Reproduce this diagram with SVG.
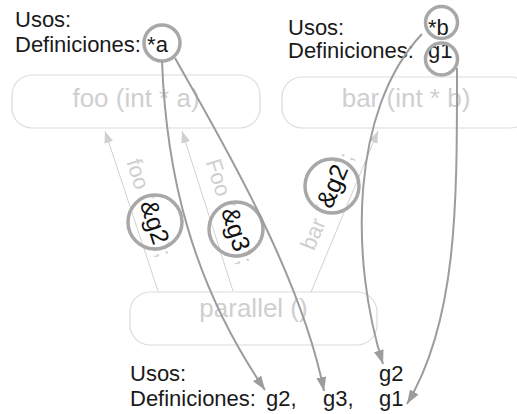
<svg xmlns="http://www.w3.org/2000/svg" width="517" height="414" viewBox="0 0 517 414">
  <style>
    .lbl { font-family: "Liberation Sans", Arial, sans-serif; font-size: 22px; fill: #1a1a1a; }
    .node rect { fill: none; stroke: #dcdcdc; stroke-width: 1.2; }
    .node text { font-family: "Liberation Sans", Arial, sans-serif; font-size: 26px; fill: #cfcfcf; text-anchor: middle; }
    .call { stroke: #d0d0d0; stroke-width: 1; fill: none; }
    .calltxt { font-family: "Liberation Sans", Arial, sans-serif; font-size: 22px; fill: #cfcfcf; }
    .arg { font-size: 25px; fill: #111; }
    .ring { fill: none; stroke: #a8a8a8; stroke-width: 3.5; }
    .dep { stroke: #9c9c9c; stroke-width: 2; fill: none; marker-end: url(#dark); }
  </style>
  <defs>
    <marker id="dark" markerUnits="userSpaceOnUse" markerWidth="15" markerHeight="11" refX="14" refY="5" orient="auto">
      <path d="M0,0 L14,5 L0,10 z" fill="#9c9c9c"/>
    </marker>
    <marker id="light" markerUnits="userSpaceOnUse" markerWidth="13" markerHeight="10" refX="12" refY="4.5" orient="auto">
      <path d="M0,0 L12,4.5 L0,9 z" fill="#d0d0d0"/>
    </marker>
  </defs>

  <rect width="517" height="414" fill="#ffffff"/>

  <!-- function nodes -->
  <g id="foo" class="node">
    <rect x="12" y="75" width="248" height="53" rx="20"/>
    <text x="136" y="107">foo (int * a)</text>
  </g>
  <g id="bar" class="node">
    <rect x="282" y="77" width="248" height="51" rx="20"/>
    <text x="406" y="107">bar (int * b)</text>
  </g>
  <g id="parallel" class="node">
    <rect x="130" y="292" width="247" height="53" rx="20"/>
    <text x="253.5" y="317">parallel ()</text>
  </g>

  <!-- call edges with argument labels -->
  <g id="calls">
    <line class="call" x1="158" y1="291" x2="105" y2="131" marker-end="url(#light)"/>
    <line class="call" x1="233" y1="291" x2="182" y2="131" marker-end="url(#light)"/>
    <line class="call" x1="311" y1="292" x2="378" y2="131" marker-end="url(#light)"/>

    <text class="calltxt" transform="translate(126.2,161.7) rotate(72)">foo (<tspan class="arg">&amp;g2</tspan>);</text>
    <text class="calltxt" transform="translate(205.4,161.7) rotate(72.3)">Foo (<tspan class="arg">&amp;g3</tspan>);</text>
    <text class="calltxt" transform="translate(313.7,251.5) rotate(-67)">bar (<tspan class="arg">&amp;g2</tspan>);</text>

    <circle class="ring" cx="155" cy="222" r="27"/>
    <circle class="ring" cx="236" cy="229" r="27"/>
    <circle class="ring" cx="332" cy="186" r="27"/>
  </g>

  <!-- use / definition annotations -->
  <g id="foo-info">
    <text class="lbl" x="15" y="27">Usos:</text>
    <text class="lbl" x="15" y="52">Definiciones: *a</text>
    <circle class="ring" cx="162" cy="43" r="18"/>
  </g>
  <g id="bar-info">
    <text class="lbl" x="288" y="35">Usos:</text>
    <text class="lbl" x="428" y="35">*b</text>
    <text class="lbl" x="288" y="58">Definiciones:</text>
    <text class="lbl" x="428" y="58">g1</text>
    <circle class="ring" cx="441.5" cy="22.5" r="16"/>
    <circle class="ring" cx="441.5" cy="59" r="16"/>
  </g>
  <g id="parallel-info">
    <text class="lbl" x="130" y="381">Usos:</text>
    <text class="lbl" x="379" y="381">g2</text>
    <text class="lbl" x="130" y="406">Definiciones:</text>
    <text class="lbl" x="266" y="406">g2,</text>
    <text class="lbl" x="323" y="406">g3,</text>
    <text class="lbl" x="379" y="406">g1</text>
  </g>

  <!-- dependency connectors -->
  <g id="deps">
    <path class="dep" d="M162,61 C166,170 190,280 265,390"/>
    <path class="dep" d="M175,58 C215,130 300,270 324,391"/>
    <path class="dep" d="M422,34 C350,110 350,260 383,364"/>
    <path class="dep" d="M457,68 C457,200 458,320 407,404"/>
  </g>
</svg>
